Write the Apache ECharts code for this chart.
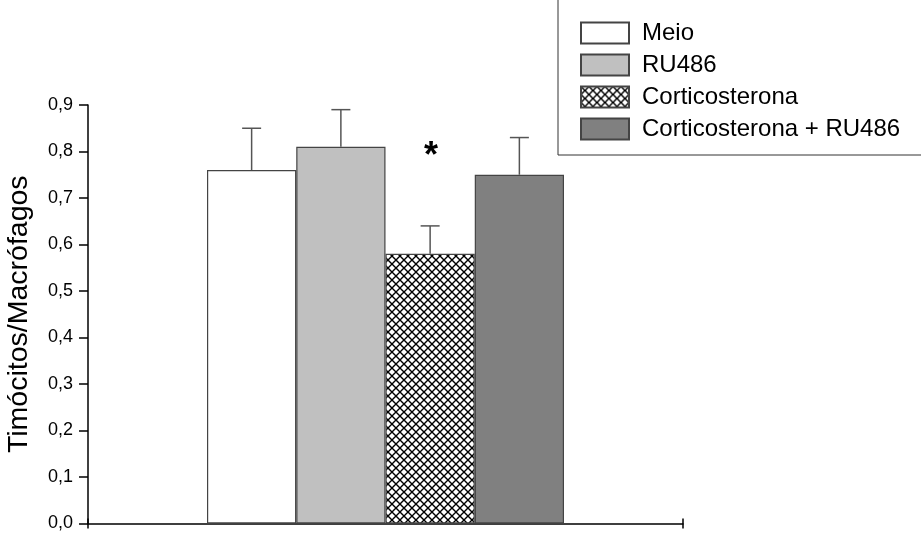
<!DOCTYPE html>
<html>
<head>
<meta charset="utf-8">
<script src="https://cdn.jsdelivr.net/npm/echarts@6/dist/echarts.min.js"></script>
<style>html,body{margin:0;padding:0;background:#fff}#c{width:921px;height:534px}</style>
</head>
<body>
<div id="c"></div>
<script>
const seriesNames = ['Meio', 'RU486', 'Corticosterona', 'Corticosterona + RU486'];
const means = [0.76, 0.81, 0.58, 0.75];
const errTops = [0.85, 0.89, 0.64, 0.83];
const yTicks = [0, 0.1, 0.2, 0.3, 0.4, 0.5, 0.6, 0.7, 0.8, 0.9];
const significance = ['', '', '*', ''];
const sigLevel = 0.80;

const FONT = 'Liberation Sans, Arial, Helvetica, sans-serif';

function hatch() {
  const s = 8;
  const c = document.createElement('canvas');
  c.width = s; c.height = s;
  const g = c.getContext('2d');
  g.fillStyle = '#fff'; g.fillRect(0, 0, s, s);
  g.strokeStyle = '#000'; g.lineWidth = 1.4;
  g.beginPath();
  g.moveTo(-1, -1); g.lineTo(s + 1, s + 1);
  g.moveTo(s + 1, -1); g.lineTo(-1, s + 1);
  g.stroke();
  return c;
}
const fills = ['#ffffff', '#c0c0c0', {image: hatch(), repeat: 'repeat'}, '#808080'];
const BAR_FRAC = 0.6;

const chart = echarts.init(document.getElementById('c'), null, {renderer: 'canvas'});

const barSeries = seriesNames.map((n, i) => {
  const s = {
    name: n,
    type: 'bar',
    data: [means[i]],
    barGap: '0%',
    barCategoryGap: '40%',
    itemStyle: {color: fills[i], borderColor: '#444', borderWidth: 1.2},
    emphasis: {disabled: true},
    z: 2
  };
  if (significance[i]) {
    s.markPoint = {
      symbol: 'circle', symbolSize: 0,
      data: [{coord: [0, sigLevel]}],
      label: {show: true, formatter: significance[i], fontSize: 36, fontWeight: 'bold', color: '#000', fontFamily: FONT, position: 'inside', offset: [1, 6]}
    };
  }
  return s;
});

const errSeries = {
  type: 'custom',
  name: 'err',
  data: errTops.map((e, i) => [i, means[i], e]),
  renderItem: function (params, api) {
    const i = api.value(0);
    const catW = api.size([1, 0])[0];
    const bw = catW * BAR_FRAC / seriesNames.length;
    const base = api.coord([0, api.value(1)]);
    const top = api.coord([0, api.value(2)]);
    const x = base[0] + (i - (seriesNames.length - 1) / 2) * bw;
    const cap = 9.5;
    const st = {stroke: '#555', lineWidth: 1.5};
    return {
      type: 'group',
      children: [
        {type: 'line', shape: {x1: x, y1: base[1], x2: x, y2: top[1]}, style: st},
        {type: 'line', shape: {x1: x - cap, y1: top[1], x2: x + cap, y2: top[1]}, style: st}
      ]
    };
  },
  z: 3,
  silent: true
};

chart.setOption({
  animation: false,
  backgroundColor: '#fff',
  textStyle: {fontFamily: FONT},
  grid: {left: 88, right: 238, top: 105, bottom: 10.5, containLabel: false, outerBoundsMode: 'none'},
  legend: {
    data: seriesNames.map(n => ({name: n, icon: 'rect'})),
    orient: 'vertical',
    left: 558,
    top: -1,
    padding: [22, 400, 14, 22],
    itemWidth: 48,
    itemHeight: 21,
    itemGap: 8,
    borderColor: '#333',
    borderWidth: 1,
    selectedMode: false,
    textStyle: {fontSize: 24, color: '#000', fontFamily: FONT, padding: [0, 0, 0, 8], lineHeight: 22}
  },
  xAxis: [{
    type: 'category',
    data: [''],
    boundaryGap: true,
    axisLine: {lineStyle: {color: '#000', width: 1.5}},
    axisTick: {show: true, length: 5, lineStyle: {color: '#000', width: 1.5}},
    axisLabel: {show: false}
  }, {
    type: 'category',
    data: [''],
    position: 'bottom',
    boundaryGap: true,
    axisLine: {show: false},
    axisTick: {show: true, inside: true, length: 5, lineStyle: {color: '#000', width: 1.5}},
    axisLabel: {show: false}
  }],
  yAxis: {
    type: 'value',
    min: 0, max: 0.9, interval: 0.1,
    name: 'Timócitos/Macrófagos',
    nameLocation: 'middle',
    nameRotate: 90,
    nameGap: 54,
    nameTextStyle: {fontSize: 28.5, color: '#000', fontFamily: FONT},
    axisLine: {show: true, lineStyle: {color: '#000', width: 1.5}},
    axisTick: {show: true, length: 9, lineStyle: {color: '#000', width: 1.5}},
    splitLine: {show: false},
    axisLabel: {
      fontSize: 18, color: '#000', margin: 15, fontFamily: FONT,
      customValues: yTicks,
      formatter: v => v.toFixed(1).replace('.', ',')
    }
  },
  series: barSeries.concat([errSeries])
});
</script>
</body>
</html>
